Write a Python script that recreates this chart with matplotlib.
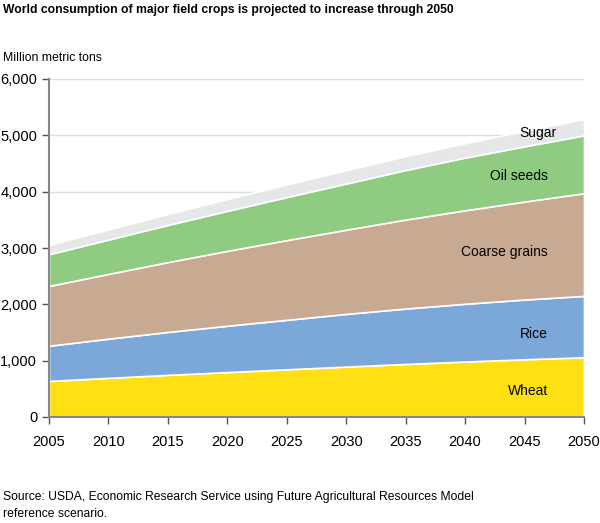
import matplotlib
matplotlib.use("Agg")
import matplotlib.pyplot as plt
from matplotlib.ticker import FuncFormatter

years = [2005, 2010, 2015, 2020, 2025, 2030, 2035, 2040, 2045, 2050]
wheat = [640, 695, 748, 798, 847, 895, 942, 985, 1025, 1060]
rice = [625, 695, 762, 822, 878, 935, 983, 1025, 1060, 1090]
coarse = [1062, 1150, 1240, 1330, 1415, 1495, 1580, 1660, 1740, 1823]
oilseeds = [563, 610, 660, 710, 765, 820, 880, 935, 980, 1027]
sugar = [165, 180, 195, 210, 225, 235, 245, 255, 275, 290]
series_names = ["Wheat", "Rice", "Coarse grains", "Oil seeds", "Sugar"]
colors = ["#FFE014", "#7BA7D9", "#C8AA92", "#8FCB80", "#E6E7E8"]
yticks = [0, 1000, 2000, 3000, 4000, 5000, 6000]

plt.rcParams['font.family'] = ['Liberation Sans', 'DejaVu Sans']

fig = plt.figure(figsize=(6.0, 5.23), dpi=100)
ax = fig.add_axes([49/600, 1-417/523, (584-49)/600, (417-79)/523])

for y in yticks[1:]:
    ax.axhline(y, color="#DDDDDD", lw=1, zorder=0)

ax.stackplot(years, wheat, rice, coarse, oilseeds, sugar, colors=colors,
             edgecolor="white", linewidth=1.2, zorder=2)

ax.set_xlim(2005, 2050)
ax.set_ylim(0, 6000)
ax.set_xticks(years)
ax.set_yticks(yticks)
ax.yaxis.set_major_formatter(FuncFormatter(lambda v, p: f"{int(v):,}"))
for s in ["top", "right"]:
    ax.spines[s].set_visible(False)
for s in ["left", "bottom"]:
    ax.spines[s].set_color("#888888")
    ax.spines[s].set_linewidth(1.5)
ax.tick_params(axis="both", colors="#555555", labelcolor="black", labelsize=10.5, length=5, width=1)
ax.tick_params(axis="x", pad=8)

# labels
lab_pos = {"Wheat": (2046.95, 467), "Rice": (2046.95, 1474), "Coarse grains": (2046.95, 2930),
           "Oil seeds": (2046.95, 4280), "Sugar": (2047.7, 5039)}
for name in series_names:
    x, y = lab_pos[name]
    ax.text(x, y, name, ha="right", va="center", fontsize=10, zorder=3)

fig.text(3/600, 1-10/523, "World consumption of major field crops is projected to increase through 2050",
         fontsize=8.7, fontweight="bold", va="center", ha="left")
fig.text(3/600, 1-58/523, "Million metric tons", fontsize=8.8, va="center", ha="left")
fig.text(3/600, 1-497/523, "Source: USDA, Economic Research Service using Future Agricultural Resources Model",
         fontsize=8.75, va="center", ha="left")
fig.text(3/600, 1-514/523, "reference scenario.", fontsize=8.75, va="center", ha="left")

fig.savefig("out.png", dpi=100)
